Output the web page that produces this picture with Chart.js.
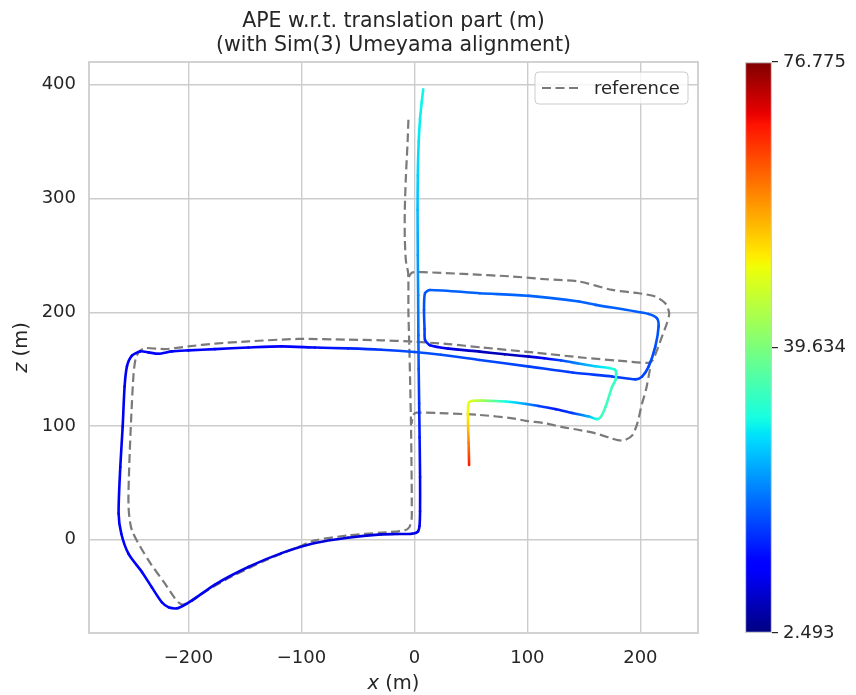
<!DOCTYPE html>
<html>
<head>
<meta charset="utf-8">
<script src="https://cdn.jsdelivr.net/npm/chart.js@4.4.1/dist/chart.umd.min.js"></script>
<style>
  html, body { margin: 0; padding: 0; background: #fff; }
  #wrap { position: relative; width: 856px; height: 695px; }
  #main { position: absolute; left: 0; top: 0; }
  #cbar { position: absolute; left: 698px; top: 0; }
</style>
</head>
<body>
<div id="wrap">
  <canvas id="main" width="856" height="695"></canvas>
  <canvas id="cbar" width="158" height="695"></canvas>
</div>
<script>
// estimated trajectory (x, z) and its APE per pose
const estX = [7.8, 6.5, 5.0, 3.8, 3.0, 2.8, 3.0, 3.3, 3.5, 3.8, 4.2, 4.6, 5.0, 5.0, 4.5, 3.0, -2.0,
  -15, -29.4, -58.8, -88.2, -117.6, -147, -176.5, -197, -208.8, -217.6, -223.5, -232.4, -241, -253,
  -259.4, -261.8, -260.3, -258.2, -256.5, -254.4, -250, -242.6, -235.3, -226.5, -214.7, -200, -176.5,
  -147, -117.6, -88.2, -58.8, -29.4, 0, 23.5, 57.8, 101.7, 140, 175, 195.6, 201.5, 207.3, 213.2,
  216.1, 214.7, 207.3, 160.4, 145.7, 101.8, 57.8, 13.8, 9.4, 8.5, 9.0, 9.4, 13.8, 30, 57.8, 80,
  101.7, 115, 130, 145, 160, 172, 177.5, 178.6, 178, 175, 169.2, 165, 161.6, 154.5, 139.6, 125.2,
  110, 98.9, 81, 70, 60.2, 52, 48.5, 47.5, 47.5, 48, 48.4];
const estY = [396, 385, 370, 350, 320, 290, 250, 215, 180, 150, 120, 90, 55, 25, 12, 7, 5.3,
  5.0, 4.7, 1.8, -2.9, -11.8, -24, -39.4, -53.5, -60, -59.4, -55, -41.8, -28.5, -12.4,
  5.3, 23, 64, 99.4, 134.7, 152.4, 161.8, 165.6, 164.7, 163.5, 165.6, 166.5, 167.6,
  169, 170, 169, 168.2, 167, 165, 162.6, 158, 152.2, 147, 143.5, 141, 143.4, 152.2, 169.8,
  187.4, 194.7, 198.5, 206.5, 209.4, 214.4, 216.7, 219.6, 216.7, 202, 185, 175.7, 171, 168, 165.4, 163,
  161, 159.5, 157.5, 155, 152.5, 151, 149.5, 146.5, 140.5, 134.6, 117, 108, 106, 108.3, 111.5, 114.8,
  117.5, 119.4, 121.5, 122, 122.3, 122.2, 121, 117, 100, 85, 65.7];
const estApe = [30.0, 29.7, 29.2, 28.5, 27.0, 25.5, 23.5, 21.5, 19.5, 17.5, 15.0, 13.5, 12.0, 10.5, 10.0, 9.5, 9.0,
  8.8, 8.6, 8.5, 8.5, 8.8, 9.0, 9.5, 10.0, 10.5, 11.0, 11.5, 12.0, 12.0, 11.5,
  11.0, 10.5, 10.0, 10.0, 10.0, 10.2, 10.5, 10.5, 10.5, 10.5, 10.5, 10.5, 10.8,
  11.0, 11.5, 12.5, 14.0, 16.0, 17.5, 17.5, 17.0, 16.5, 16.0, 16.0, 16.5, 16.5, 17.0, 17.5,
  18.0, 18.0, 18.5, 19.0, 19.0, 19.0, 19.0, 18.5, 18.0, 17.5, 17.0, 15.0, 13.0, 9.0, 6.5, 6.0,
  7.5, 11.0, 17.0, 22.0, 27.0, 30.0, 31.5, 32.5, 33.0, 33.5, 34.0, 34.0, 31.0, 25.0, 16.0, 13.5,
  17.0, 23.0, 30.5, 37.0, 43.0, 47.0, 48.5, 49.0, 54.0, 60.0, 68.0];

// reference trajectory (x, z); null = gap where the drive retraces a road already drawn
const refX = [-5.3, -6.0, -7.5, -8.5, -8.5, -7.5, -5.5, -5.3, -4.5, -3.8, -3.0, -2.5, -2.3, -2.5, -4.5,
  -8.8, -29.4, -58.8, -88.2, -103, -132, -161.8, -182.4, -200, -205, -209, -213, -220.6, -235.3, -250,
  -253, -252.4, -250.6, -248.5, -246.5, -243, -238.2, -220.6, -200, -176.5, -147, -103, -58.8, -29.4,
  -5.9, 30, 60, 106, 150, 180, 207, 211, 214.5, 219.1, 223.5, 225.5, 222, 213.2, 198.5, 175, 145.7,
  116.4, 87.1, 43.1, 7.9, -2, -5.0, null,
  208.5, 205, 201, 197.5, 193, 186, 180, 175, 160.4, 145.7, 131, 116.4, 98.9, 87.1, 57.8, 28.4, 2, -1, -2.5];
const refY = [369.2, 350, 320, 290, 265, 245, 234, 200, 170, 140, 100, 60, 30, 18, 11,
  8.2, 6.2, 3.8, -0.6, -6.5, -18.2, -32.4, -44, -55, -57, -55, -50, -38.8, -18.2, 8.2,
  28.8, 64, 108.2, 146.5, 160, 166, 168.5, 167.6, 170, 172.4, 174.4, 176.5, 175.9, 175.3,
  174.4, 172, 169, 164.6, 160, 157.5, 155.5, 158, 166, 178.6, 190.3, 199.1, 207.9, 213.8, 216.7, 219.6, 227,
  229, 231.4, 233.7, 235.2, 235, 231, null,
  150, 132, 118, 103, 92, 87.5, 87.5, 89, 93.5, 96.5, 99, 102.3, 104.5, 106.7, 109.7, 111.1, 111.7, 109.7, 102];

const xTicks = [-200, -100, 0, 100, 200];
const yTicks = [0, 100, 200, 300, 400];
const apeMin = 2.493;
const apeMax = 76.775;
const cbarTicks = [2.493, 39.634, 76.775];
const titleLines = ['APE w.r.t. translation part (m)', '(with Sim(3) Umeyama alignment)'];

const FONT = "'DejaVu Sans', sans-serif";
const TEXT = '#262626';
const GRID = '#cccccc';
Chart.defaults.font.family = FONT;
Chart.defaults.color = TEXT;

// matplotlib "jet"
const JET = {
  r: [[0, 0], [0.35, 0], [0.66, 1], [0.89, 1], [1, 0.5]],
  g: [[0, 0], [0.125, 0], [0.375, 1], [0.64, 1], [0.91, 0], [1, 0]],
  b: [[0, 0.5], [0.11, 1], [0.34, 1], [0.65, 0], [1, 0]],
};
function interp(pts, t) {
  for (let i = 1; i < pts.length; i++) {
    if (t <= pts[i][0]) {
      const [x0, y0] = pts[i - 1];
      const [x1, y1] = pts[i];
      return y0 + (y1 - y0) * (t - x0) / (x1 - x0);
    }
  }
  return pts[pts.length - 1][1];
}
function jet(t) {
  t = Math.min(1, Math.max(0, t));
  const c = ['r', 'g', 'b'].map(k => Math.round(255 * interp(JET[k], t)));
  return `rgb(${c[0]},${c[1]},${c[2]})`;
}
const norm = v => (v - apeMin) / (apeMax - apeMin);
const fmt = v => String(v).replace('-', '\u2212');

const estPoints = estX.map((x, i) => ({ x, y: estY[i] }));
const refPoints = refX.map((x, i) => ({ x, y: refY[i] }));

function segmentColor(ctx) {
  const a = estApe[ctx.p0DataIndex];
  const b = estApe[ctx.p1DataIndex];
  const g = ctx.chart.ctx.createLinearGradient(ctx.p0.x, ctx.p0.y, ctx.p1.x, ctx.p1.y);
  for (let i = 0; i <= 4; i++) g.addColorStop(i / 4, jet(norm(a + (b - a) * i / 4)));
  return g;
}

function drawMixed(ctx, parts, x, y, angle, size) {
  ctx.save();
  ctx.translate(x, y);
  ctx.rotate(angle);
  const fonts = parts.map(p => `${p.italic ? 'italic ' : ''}${size}px ${FONT}`);
  const widths = parts.map((p, i) => { ctx.font = fonts[i]; return ctx.measureText(p.text).width; });
  let cx = -widths.reduce((s, w) => s + w, 0) / 2;
  ctx.textAlign = 'left';
  ctx.textBaseline = 'middle';
  ctx.fillStyle = TEXT;
  parts.forEach((p, i) => { ctx.font = fonts[i]; ctx.fillText(p.text, cx, 0); cx += widths[i]; });
  ctx.restore();
}

const decorations = {
  id: 'decorations',
  beforeDatasetsDraw(chart) {
    const { ctx, chartArea: a } = chart;
    ctx.save();
    ctx.strokeStyle = GRID;
    ctx.lineWidth = 1.75;
    ctx.strokeRect(a.left, a.top, a.right - a.left, a.bottom - a.top);
    ctx.restore();
  },
  afterDraw(chart) {
    const { ctx, chartArea: a } = chart;
    const cx = (a.left + a.right) / 2;
    ctx.save();
    ctx.fillStyle = TEXT;
    ctx.textAlign = 'center';
    ctx.textBaseline = 'middle';
    ctx.font = `20.5px ${FONT}`;
    titleLines.forEach((t, i) => ctx.fillText(t, cx, 22 + i * 24));
    ctx.restore();

    drawMixed(ctx, [{ text: 'x', italic: true }, { text: ' (m)' }], cx, 684, 0, 19.5);
    drawMixed(ctx, [{ text: 'z', italic: true }, { text: ' (m)' }], 22, (a.top + a.bottom) / 2, -Math.PI / 2, 19.5);

    // legend box, upper right
    const ds = chart.data.datasets[1];
    const lw = 153, lh = 32;
    const lx = a.right - 10 - lw, ly = a.top + 10;
    ctx.save();
    ctx.beginPath();
    ctx.roundRect(lx, ly, lw, lh, 4);
    ctx.fillStyle = 'rgba(255,255,255,0.8)';
    ctx.fill();
    ctx.strokeStyle = GRID;
    ctx.lineWidth = 1;
    ctx.stroke();
    ctx.beginPath();
    ctx.setLineDash(ds.borderDash);
    ctx.strokeStyle = ds.borderColor;
    ctx.lineWidth = ds.borderWidth;
    ctx.moveTo(lx + 7, ly + lh / 2);
    ctx.lineTo(lx + 47, ly + lh / 2);
    ctx.stroke();
    ctx.setLineDash([]);
    ctx.fillStyle = TEXT;
    ctx.font = `18px ${FONT}`;
    ctx.textAlign = 'left';
    ctx.textBaseline = 'middle';
    ctx.fillText(ds.label, lx + 59, ly + lh / 2 + 1);
    ctx.restore();
  }
};

const tickFont = { size: 18, family: FONT };

new Chart(document.getElementById('main'), {
  type: 'scatter',
  data: {
    datasets: [
      {
        label: 'APE',
        data: estPoints,
        showLine: true,
        order: 0,
        borderWidth: 2.6,
        borderColor: jet(0.1),
        pointRadius: 0,
        tension: 0.25,
        borderCapStyle: 'round',
        borderJoinStyle: 'round',
        segment: { borderColor: segmentColor },
      },
      {
        label: 'reference',
        data: refPoints,
        showLine: true,
        spanGaps: false,
        order: 1,
        borderColor: '#7a7a7a',
        borderWidth: 2.2,
        borderDash: [9, 4.5],
        pointRadius: 0,
        tension: 0.25,
      },
    ],
  },
  options: {
    responsive: false,
    animation: false,
    events: [],
    layout: { padding: { left: 0, top: 62, right: 158, bottom: 0 } },
    plugins: { legend: { display: false }, tooltip: { enabled: false }, title: { display: false } },
    scales: {
      x: {
        type: 'linear',
        min: -288,
        max: 251,
        afterBuildTicks: s => { s.ticks = xTicks.map(v => ({ value: v })); },
        afterFit: s => { s.height = 62; },
        grid: { color: GRID, lineWidth: 1.4, drawTicks: false },
        border: { display: false },
        ticks: { padding: 15, color: TEXT, font: tickFont, maxRotation: 0, callback: v => fmt(v) },
      },
      y: {
        type: 'linear',
        min: -82,
        max: 420,
        afterBuildTicks: s => { s.ticks = yTicks.map(v => ({ value: v })); },
        afterFit: s => { s.width = 89; },
        grid: { color: GRID, lineWidth: 1.4, drawTicks: false },
        border: { display: false },
        ticks: { padding: 13, color: TEXT, font: tickFont, callback: v => fmt(v) },
      },
    },
  },
  plugins: [decorations],
});

// colour bar
function cbarFill(ctx) {
  const area = ctx.chart.chartArea;
  if (!area) return jet(0.5);
  const g = ctx.chart.ctx.createLinearGradient(0, area.bottom, 0, area.top);
  for (let i = 0; i <= 100; i++) g.addColorStop(i / 100, jet(i / 100));
  return g;
}

new Chart(document.getElementById('cbar'), {
  type: 'bar',
  data: {
    labels: ['APE'],
    datasets: [{
      data: [[apeMin, apeMax]],
      backgroundColor: cbarFill,
      borderColor: GRID,
      borderWidth: 1.5,
      borderSkipped: false,
      barPercentage: 1,
      categoryPercentage: 1,
    }],
  },
  options: {
    responsive: false,
    animation: false,
    events: [],
    layout: { padding: { left: 47, top: 62, bottom: 62, right: 0 } },
    plugins: { legend: { display: false }, tooltip: { enabled: false } },
    scales: {
      x: { display: false },
      y: {
        position: 'right',
        min: apeMin,
        max: apeMax,
        afterBuildTicks: s => { s.ticks = cbarTicks.map(v => ({ value: v })); },
        afterFit: s => { s.width = 84; },
        grid: { drawOnChartArea: false, drawTicks: true, tickLength: 6, color: TEXT, lineWidth: 1.2 },
        border: { display: false },
        ticks: { padding: 5, color: TEXT, font: tickFont, callback: v => v.toFixed(3) },
      },
    },
  },
});
</script>
</body>
</html>
